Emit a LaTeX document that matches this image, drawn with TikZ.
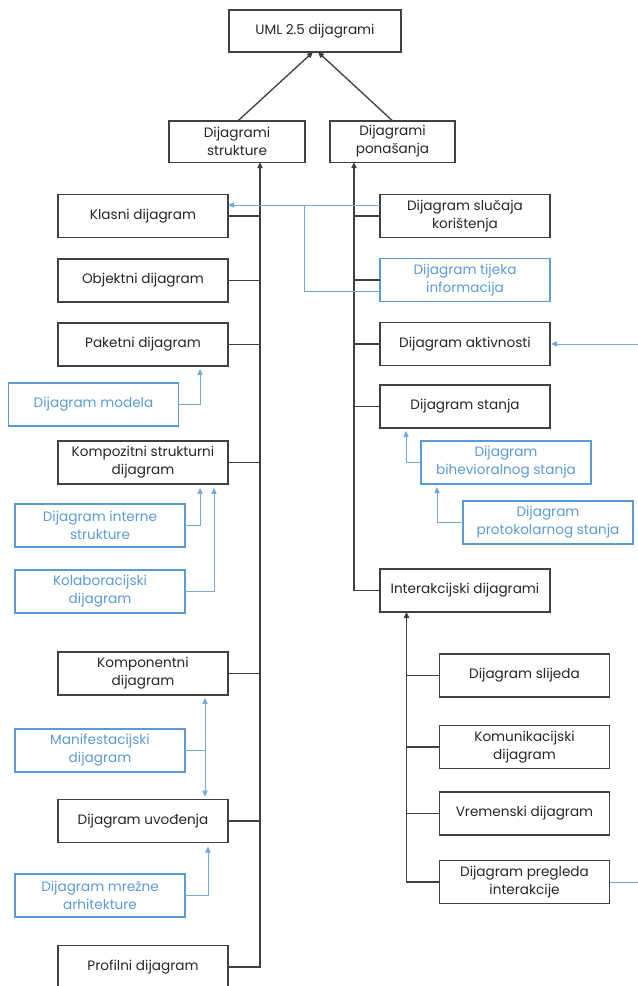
\documentclass[tikz,border=0pt]{standalone}
\usepackage{fontspec}
\setmainfont{Poppins}
\usepackage{xcolor}
\usetikzlibrary{arrows.meta, positioning, calc}
\definecolor{umlgray}{HTML}{404040}
\definecolor{umlblue}{HTML}{5B9BD5}

\begin{document}
\begin{tikzpicture}[
    x=0.75pt, y=-0.75pt,
    >={Triangle[length=4.5pt,width=4pt]},
    box/.style={draw=umlgray, line width=1pt, minimum width=127.5pt, minimum height=32.25pt,
                inner sep=2pt, outer sep=0pt, font=\fontsize{10.2}{13.5}\selectfont,
                align=center, text=black!85},
    bluebox/.style={box, draw=umlblue, text=umlblue, line width=0.8pt},
    arr/.style={->, draw=umlgray, line width=1pt},
    trunkline/.style={draw=umlgray, line width=1pt},
    barr/.style={->, draw=umlblue!85, line width=0.6pt},
    bline/.style={draw=umlblue!85, line width=0.6pt},
]
\useasboundingbox (0,0) rectangle (637,986);

% === Top ===
\node[box, minimum width=129pt, minimum height=31.5pt] (uml) at (315,31) {UML 2.5 dijagrami};
\node[box, minimum width=102pt, minimum height=31pt] (struk) at (237,141.5) {Dijagrami\\strukture};
\node[box, minimum width=93.75pt, minimum height=31pt] (pon) at (392.5,141.5) {Dijagrami\\ponašanja};

\draw[arr] ($(struk.north)+(1,0)$) -- ($(uml.south)+(-2,0)$);
\draw[arr] (pon.north) -- ($(uml.south)+(3,0)$);

% === Left column: structure ===
\node[box] (klasni) at (143,216) {Klasni dijagram};
\node[box, below=16.1pt of klasni] (objektni) {Objektni dijagram};
\node[box, below=15.75pt of objektni] (paketni) {Paketni dijagram};
\node[box, below=56.25pt of paketni] (kompozitni) {Kompozitni strukturni\\dijagram};
\node[box, below=126pt of kompozitni] (komponentni) {Komponentni\\dijagram};
\node[box, below=78.4pt of komponentni] (uvodenja) {Dijagram uvođenja};
\node[box, below=77.25pt of uvodenja] (profilni) {Profilni dijagram};

\node[bluebox] (modela) at (93.5,404.5) {Dijagram modela};
\node[bluebox] (interne) at (100,525.5) {Dijagram interne\\strukture};
\node[bluebox, below=17.25pt of interne] (kolab) {Kolaboracijski\\dijagram};
\node[bluebox] (manif) at (100,750.5) {Manifestacijski\\dijagram};
\node[bluebox] (mrezne) at (100,895.5) {Dijagram mrežne\\arhitekture};

\draw[arr] (profilni.east) -- ++(32,0) coordinate (lt) -- (lt |- struk.south);
\foreach \n in {klasni,objektni,paketni,kompozitni,komponentni,uvodenja}
    \draw[trunkline] (\n.east) -- (\n.east -| lt);

% === Right column: behaviour ===
\node[box] (slucaja) at (465,216) {Dijagram slučaja\\korištenja};
\node[bluebox, below=15.75pt of slucaja] (tijeka) {Dijagram tijeka\\informacija};
\node[box, below=15.75pt of tijeka] (aktiv) {Dijagram aktivnosti};
\node[box, below=14.6pt of aktiv] (stanja) {Dijagram stanja};
\node[box] (interakc) at (465,590.5) {Interakcijski dijagrami};

\node[bluebox] (bihev) at (506,462.5) {Dijagram\\bihevioralnog stanja};
\node[bluebox] (protok) at (548,522.5) {Dijagram\\protokolarnog stanja};

\draw[arr] (interakc.west) -- ++(-26,0) coordinate (rt) -- (rt |- pon.south);
\foreach \n in {slucaja,tijeka,aktiv,stanja}
    \draw[trunkline] (\n.west) -- (\n.west -| rt);

% === Interaction diagrams ===
\node[box] (slijeda) at (524.5,675.5) {Dijagram slijeda};
\node[box, below=21.4pt of slijeda] (komunik) {Komunikacijski\\dijagram};
\node[box, below=17.6pt of komunik] (vremen) {Vremenski dijagram};
\node[box, below=19.1pt of vremen] (pregled) {Dijagram pregleda\\interakcije};

\draw[arr] (pregled.west) -- ++(-33,0) coordinate (it) -- (it |- interakc.south);
\foreach \n in {slijeda,komunik,vremen}
    \draw[trunkline] (\n.west) -- (\n.west -| it);

% === Blue links ===
\draw[barr] ($(slucaja.west)+(0,-11)$) -- ($(klasni.east)+(0,-11)$);
\draw[bline] ($(tijeka.west)+(0,11)$) -| ($(klasni.east)+(76,-11)$);
\draw[barr] (modela.east) -| ($(paketni.south)+(57,3)$);
\draw[barr] (interne.east) -| ($(kompozitni.south)+(57,4)$);
\draw[barr] (kolab.east) -| ($(kompozitni.south)+(71,4)$);
\draw[barr] (manif.east) -| ($(komponentni.south)+(62,3)$);
\draw[barr] (manif.east) -| ($(uvodenja.north)+(62,-3)$);
\draw[barr] (mrezne.east) -| ($(uvodenja.south)+(65,4)$);
\draw[barr] (bihev.west) -| ($(stanja.south)+(-59,3)$);
\draw[barr] (protok.west) -| ($(bihev.south)+(-69,3)$);

\coordinate (aktin) at ($(aktiv.east)+(88,0)$);
\coordinate (pregout) at ($(pregled.east)+(28,0)$);
\draw[barr] (aktin) -- ($(aktiv.east)+(1,0)$);
\draw[bline] (pregled.east) -- (pregout);

\end{tikzpicture}
\end{document}
